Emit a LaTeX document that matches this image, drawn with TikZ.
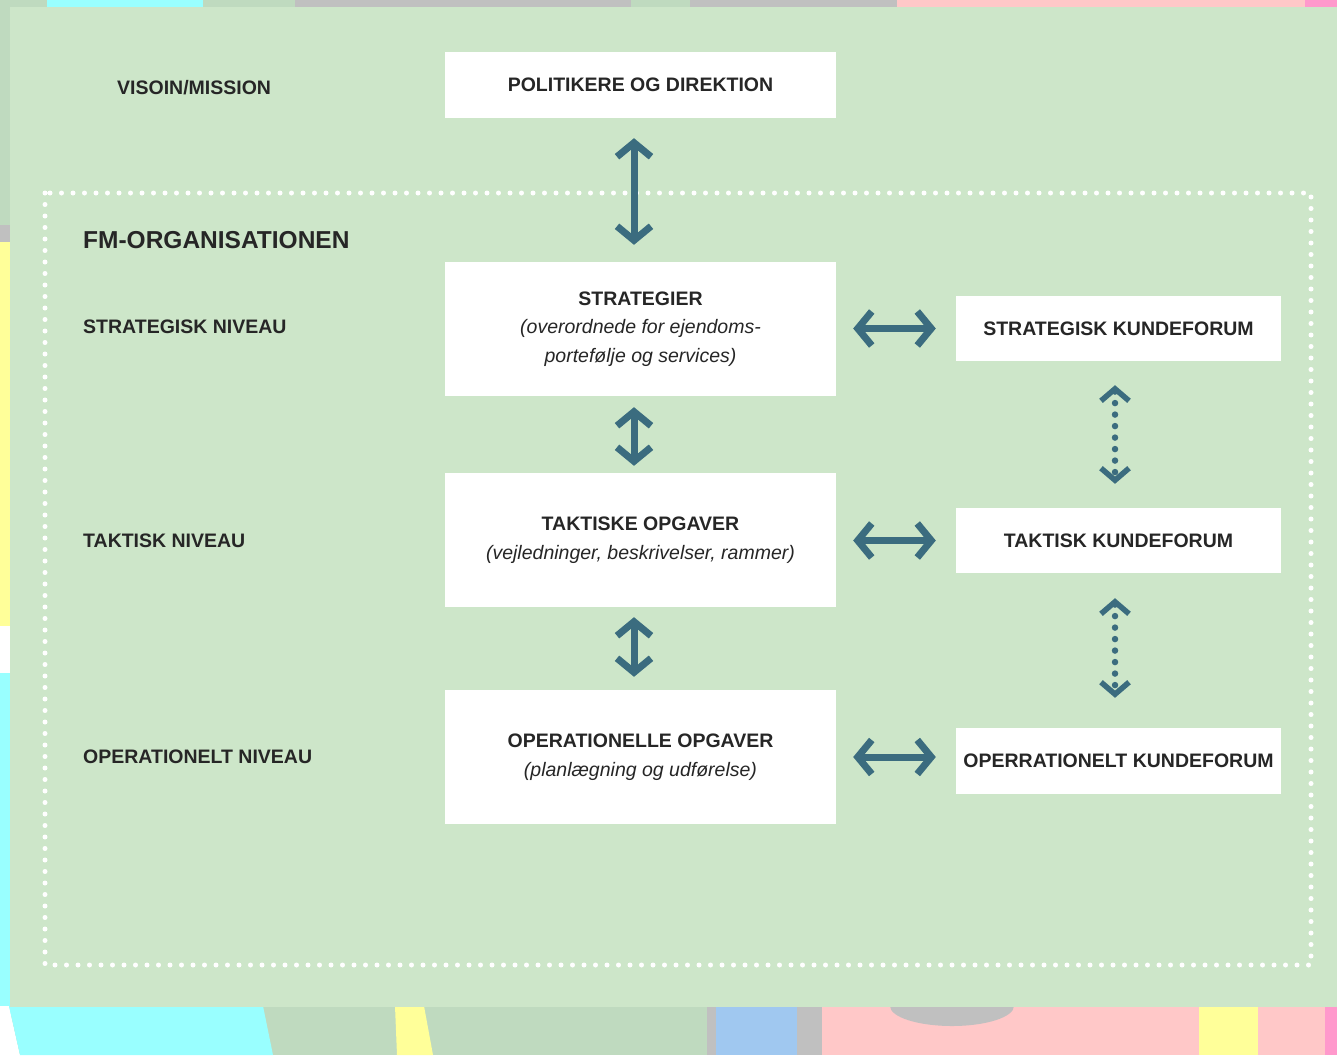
\documentclass[tikz,border=0pt]{standalone}
\usepackage{fontspec}
\setmainfont{Liberation Sans}
\usetikzlibrary{arrows.meta}
\definecolor{panel}{HTML}{CDE6C9}
\definecolor{bggreen}{HTML}{BFDABF}
\definecolor{bgcyan}{HTML}{99FFFF}
\definecolor{bggray}{HTML}{C0C0C0}
\definecolor{bgpink}{HTML}{FFC8C8}
\definecolor{bgmag}{HTML}{FF99CC}
\definecolor{bgyellow}{HTML}{FFFF99}
\definecolor{bgblue}{HTML}{A0C8F0}
\definecolor{arrowcol}{HTML}{3B6C7F}
\definecolor{txt}{HTML}{262626}
\tikzset{
  wbox/.style={fill=white, draw=none, inner sep=0pt, align=center, text=txt,
    font=\fontsize{19.5}{28.5}\selectfont},
  bigbox/.style={wbox, minimum width=391pt, minimum height=134pt},
  kbox/.style={wbox, minimum width=325pt, minimum height=65pt},
  lbl/.style={anchor=west, inner sep=0pt, text=txt, font=\fontsize{19.5}{24}\selectfont\bfseries},
  solidarrow/.style={draw=arrowcol, line width=7pt,
    {Straight Barb[length=14pt, width=34pt, line width=7pt]}-{Straight Barb[length=14pt, width=34pt, line width=7pt]}},
  dotarrow/.style={draw=arrowcol, line width=6.5pt, line cap=round, dash pattern=on 0pt off 11.5pt,
    {Straight Barb[length=12pt, width=28pt, line width=5.5pt]}-{Straight Barb[length=12pt, width=28pt, line width=5.5pt]}},
  dotframe/.style={draw=white, line width=5pt, line cap=round, dash pattern=on 0pt off 11.5pt}
}
\begin{document}
\begin{tikzpicture}[x=1pt,y=-1pt]
\useasboundingbox (0,0) rectangle (1337,1055);
% background picture strips
\fill[bggreen] (0,0) rectangle (1337,1055);
\fill[bgcyan] (47,0) rectangle (203,8);
\fill[bggray] (295,0) rectangle (631,8);
\fill[bggray] (690,0) rectangle (897,8);
\fill[bgpink] (897,0) rectangle (1305,8);
\fill[bgmag] (1305,0) rectangle (1337,8);
\fill[bggray] (0,225) rectangle (11,242);
\fill[bgyellow] (0,242) rectangle (11,626);
\fill[white] (0,626) rectangle (11,673);
\fill[bgcyan] (0,673) rectangle (11,1055);
\fill[white] (0,1006) -- (9,1006) -- (20,1055) -- (0,1055) -- cycle;
\fill[bgcyan] (9,1006) -- (263,1006) -- (273,1055) -- (20,1055) -- cycle;
\fill[bgyellow] (395,1006) -- (424,1006) -- (433,1055) -- (397,1055) -- cycle;
\fill[bggray] (707,1006) rectangle (722,1055);
\fill[bgblue] (716,1006) rectangle (797,1055);
\fill[bggray] (797,1006) rectangle (822,1055);
\fill[bgpink] (822,1006) rectangle (1337,1055);
\fill[bggray] (890,1006) arc[start angle=180, end angle=360, x radius=62pt, y radius=20pt] -- cycle;
\fill[bgyellow] (1199,1006) rectangle (1258,1055);
\fill[bgmag] (1325,1006) rectangle (1337,1055);
% panel
\fill[panel] (10,7) rectangle (1337,1007);
% dotted frame
\draw[dotframe] (45,193) rectangle (1311,965);
% labels
\node[lbl] (lvis) at (117,88) {VISOIN/MISSION};
\node[lbl, font=\fontsize{24.5}{28}\selectfont\bfseries] (lfm) at (83,240) {FM-ORGANISATIONEN};
\node[lbl] (lstrat) at (83,327) {STRATEGISK NIVEAU};
\node[lbl] (ltakt) at (83,541) {TAKTISK NIVEAU};
\node[lbl] (loper) at (83,757) {OPERATIONELT NIVEAU};
% main boxes
\node[wbox, minimum width=391pt, minimum height=66pt] (pol) at (640.5,85) {\bfseries POLITIKERE OG DIREKTION};
\node[bigbox] (strat) at (640.5,329) {\bfseries STRATEGIER\\\itshape (overordnede for ejendoms-\\\itshape portefølje og services)};
\node[bigbox] (takt) at (640.5,540) {\bfseries TAKTISKE OPGAVER\\\itshape (vejledninger, beskrivelser, rammer)};
\node[bigbox] (oper) at (640.5,757) {\bfseries OPERATIONELLE OPGAVER\\\itshape (planlægning og udførelse)};
% right boxes
\node[kbox] (skf) at (1118.5,328.5) {\bfseries STRATEGISK KUNDEFORUM};
\node[kbox] (tkf) at (1118.5,540.5) {\bfseries TAKTISK KUNDEFORUM};
\node[kbox, minimum height=66pt] (okf) at (1118.5,761) {\bfseries OPERRATIONELT KUNDEFORUM};
% vertical solid arrows
\draw[solidarrow, shorten <=20pt, shorten >=17pt] ([xshift=-6.5pt]pol.south) -- ([xshift=-6.5pt]strat.north);
\draw[solidarrow, shorten <=11pt, shorten >=7pt] ([xshift=-6.5pt]strat.south) -- ([xshift=-6.5pt]takt.north);
\draw[solidarrow, shorten <=10pt, shorten >=13pt] ([xshift=-6.5pt]takt.south) -- ([xshift=-6.5pt]oper.north);
% horizontal arrows
\draw[solidarrow, shorten <=17pt, shorten >=20pt] (strat.east |- skf.west) -- (skf.west);
\draw[solidarrow, shorten <=17pt, shorten >=20pt] (takt.east |- tkf.west) -- (tkf.west);
\draw[solidarrow, shorten <=17pt, shorten >=20pt] (oper.east) -- (oper.east -| okf.west);
% dotted arrows
\draw[dotarrow, shorten <=24pt, shorten >=24pt] ([xshift=-3.5pt]skf.south) -- ([xshift=-3.5pt]tkf.north);
\draw[dotarrow, shorten <=25pt, shorten >=30pt] ([xshift=-3.5pt]tkf.south) -- ([xshift=-3.5pt]okf.north);
\end{tikzpicture}
\end{document}
